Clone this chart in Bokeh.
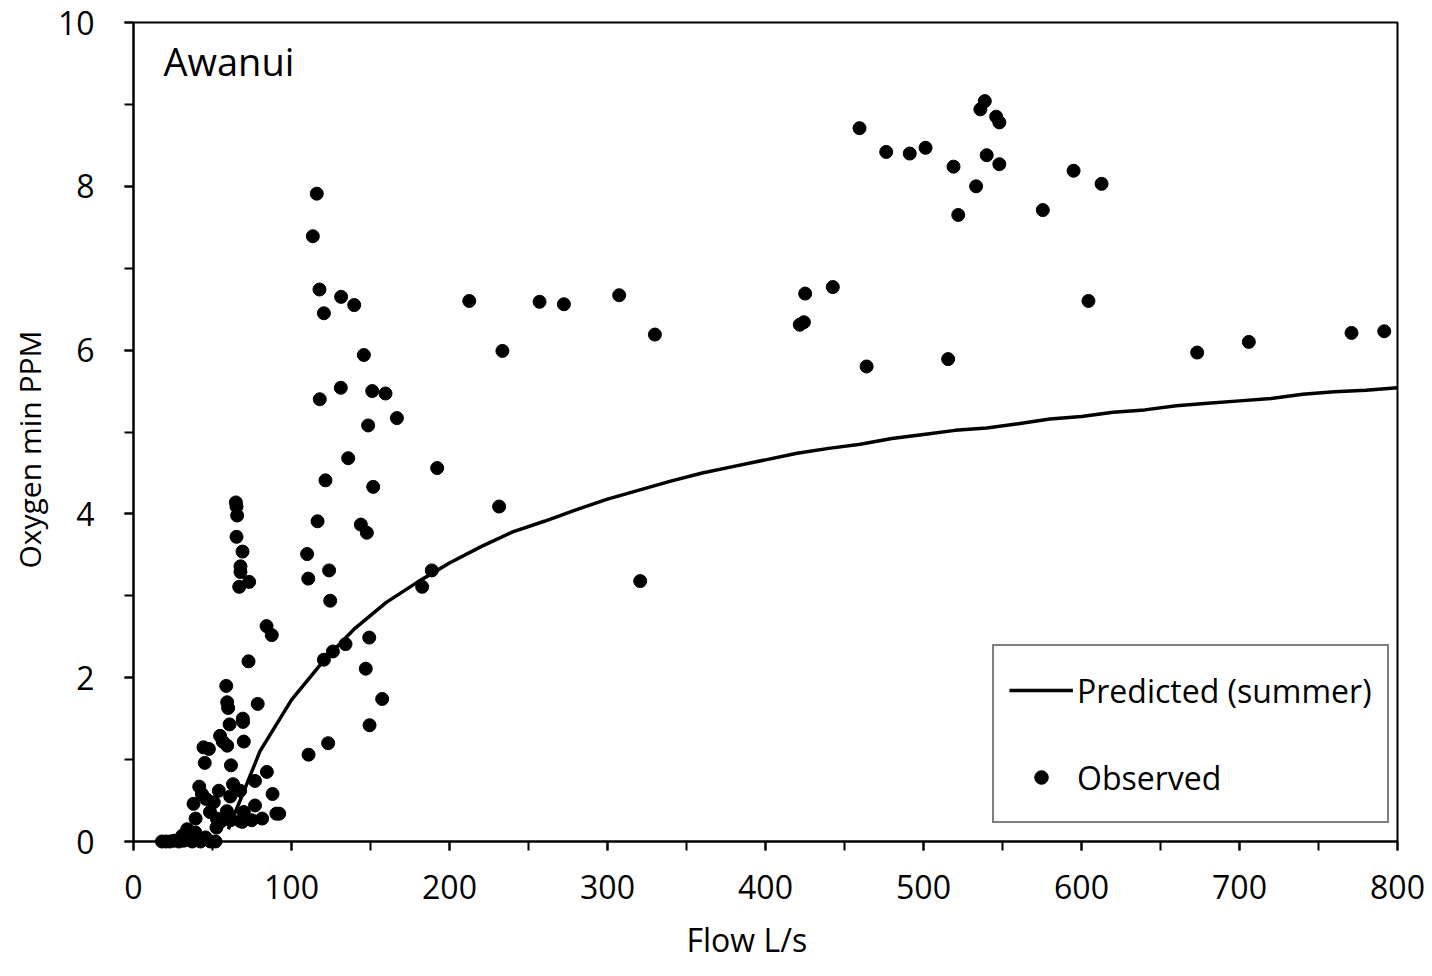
from bokeh.plotting import figure
from bokeh.models import Range1d, FixedTicker, Legend, LegendItem, Label, Title
from bokeh.embed import file_html
from bokeh.resources import INLINE

# ---- data ----
flow_obs = [
    459.5, 476.4, 491.3, 501.3, 519.0, 533.3, 538.8, 536.0, 546.0, 548.0, 540.0, 548.0,
    522.0, 575.5, 595.0, 612.7, 604.4, 515.6, 464.0, 673.2, 705.9, 770.9, 791.6,
    233.5, 257.0, 272.4, 307.4, 330.0, 231.4, 320.7, 425.1, 442.6, 421.7, 424.3,
    116.0, 113.5, 117.7, 131.4, 139.7, 120.5, 212.5, 145.8, 131.2, 151.1, 159.5, 117.9,
    166.7, 148.5, 135.9, 192.2, 121.5, 151.7, 116.5, 143.9, 147.7, 109.9, 123.8, 110.6,
    188.8, 182.7, 124.5, 149.2, 134.2, 126.2, 120.5, 147.0, 157.4, 149.4, 123.2, 110.8,
    64.8, 65.2, 65.6, 65.2, 69.0, 67.7, 67.7, 73.2, 66.9, 84.2, 87.5, 72.8,
    58.7, 59.3, 59.9, 78.6, 60.8, 69.2, 69.3, 54.8, 56.5, 59.3, 44.3, 47.7, 69.8,
    45.1, 61.7, 84.4, 76.9, 88.0, 63.0, 67.5, 41.6, 54.0, 43.3, 45.9, 38.0, 50.8,
    61.2, 48.4, 76.9, 92.2, 90.4, 39.3, 59.1, 52.7, 69.8, 81.4, 74.8, 67.5, 61.4,
    52.5, 55.0, 68.8,
    18.0, 20.5, 23.0, 25.5, 28.7, 30.8, 31.8, 34.0, 36.0, 37.2, 39.2, 40.3, 42.4,
    44.0, 45.6, 48.7, 51.9, 36.5, 33.0,
]
oxy_obs = [
    8.71, 8.42, 8.40, 8.47, 8.24, 8.00, 9.04, 8.94, 8.85, 8.78, 8.38, 8.27,
    7.65, 7.71, 8.19, 8.03, 6.60, 5.89, 5.80, 5.97, 6.10, 6.21, 6.23,
    5.99, 6.59, 6.56, 6.67, 6.19, 4.09, 3.18, 6.69, 6.77, 6.31, 6.34,
    7.91, 7.39, 6.74, 6.65, 6.55, 6.45, 6.60, 5.94, 5.54, 5.50, 5.47, 5.40,
    5.17, 5.08, 4.68, 4.56, 4.41, 4.33, 3.91, 3.87, 3.77, 3.51, 3.31, 3.21,
    3.31, 3.11, 2.94, 2.49, 2.41, 2.32, 2.22, 2.11, 1.74, 1.42, 1.20, 1.06,
    4.14, 4.09, 3.98, 3.72, 3.54, 3.36, 3.29, 3.17, 3.11, 2.63, 2.52, 2.20,
    1.90, 1.70, 1.63, 1.68, 1.43, 1.50, 1.46, 1.29, 1.22, 1.17, 1.15, 1.13, 1.22,
    0.96, 0.93, 0.85, 0.74, 0.58, 0.70, 0.62, 0.67, 0.62, 0.58, 0.52, 0.46, 0.48,
    0.55, 0.36, 0.44, 0.34, 0.34, 0.28, 0.37, 0.28, 0.36, 0.28, 0.26, 0.25, 0.26,
    0.17, 0.24, 0.24,
    0.00, 0.00, 0.00, 0.01, 0.00, 0.07, 0.01, 0.15, 0.05, 0.00, 0.11, 0.05, 0.00,
    0.03, 0.05, 0.00, 0.00, 0.03, 0.02,
]

flow_pred = [60, 70, 80, 100, 120, 140, 160, 180, 200, 220, 240, 260, 280, 300, 320,
             340, 360, 380, 400, 420, 440, 460, 480, 500, 520, 540, 560, 580, 600,
             620, 640, 660, 680, 700, 720, 740, 760, 780, 800]
oxy_pred = [0.15, 0.62, 1.10, 1.73, 2.20, 2.60, 2.92, 3.17, 3.40, 3.60, 3.78, 3.91,
            4.05, 4.18, 4.29, 4.40, 4.50, 4.58, 4.66, 4.74, 4.80, 4.85, 4.92, 4.97,
            5.02, 5.05, 5.10, 5.16, 5.19, 5.24, 5.27, 5.32, 5.35, 5.38, 5.41, 5.46,
            5.49, 5.51, 5.54]

x_major = [0, 100, 200, 300, 400, 500, 600, 700, 800]
x_minor = [0, 50, 100, 150, 200, 250, 300, 350, 400, 450, 500, 550, 600, 650, 700, 750, 800]
y_major = [0, 2, 4, 6, 8, 10]
y_minor = [0, 1, 2, 3, 4, 5, 6, 7, 8, 9, 10]

x_title = "Flow L/s"
y_title = "Oxygen min PPM"
panel_title = "Awanui"
series_names = ["Predicted (summer)", "Observed"]

FONT = "Open Sans"

p = figure(width=1432, height=976, output_backend="svg", toolbar_location=None,
           x_range=Range1d(0, 800), y_range=Range1d(0, 10),
           min_border_left=133, min_border_right=35, min_border_top=22,
           min_border_bottom=135)
p.xgrid.visible = False
p.ygrid.visible = False
p.outline_line_color = "black"
p.outline_line_width = 2
p.outline_line_alpha = 1
p.background_fill_color = "white"
p.border_fill_color = "white"

p.xaxis.ticker = FixedTicker(ticks=x_major, minor_ticks=x_minor)
p.yaxis.ticker = FixedTicker(ticks=y_major, minor_ticks=y_minor)
for ax in (p.xaxis[0], p.yaxis[0]):
    ax.axis_line_color = "black"
    ax.axis_line_width = 2
    ax.major_tick_line_color = "black"
    ax.major_tick_line_width = 2
    ax.minor_tick_line_color = "black"
    ax.minor_tick_line_width = 2
    ax.major_tick_in = 0
    ax.major_tick_out = 9
    ax.minor_tick_in = 0
    ax.minor_tick_out = 9
    ax.major_label_text_font = FONT
    ax.major_label_text_font_size = "32px"
    ax.major_label_text_color = "black"
p.xaxis.major_label_standoff = 24
p.yaxis.major_label_standoff = 30

line_r = p.line(flow_pred, oxy_pred, line_color="black", line_width=3.5, level="overlay")
pts_r = p.scatter(flow_obs, oxy_obs, marker="circle", size=13, fill_color="black",
                  line_color="black", level="overlay")

# panel title inside the plot area
p.add_layout(Label(x=30, y=781, x_units="screen", y_units="screen", text=panel_title,
                   text_font=FONT, text_font_size="38px", text_color="black",
                   text_baseline="alphabetic"))

# axis titles as side titles (so they can be offset along the axis)
p.add_layout(Title(text=x_title, align="left", offset=553, standoff=28,
                   text_font=FONT, text_font_size="32px", text_font_style="normal",
                   text_color="black"), "below")
p.add_layout(Title(text=y_title, align="left", offset=273, standoff=10,
                   text_font=FONT, text_font_size="30px", text_font_style="normal",
                   text_color="black"), "left")

legend = Legend(items=[LegendItem(label=series_names[0], renderers=[line_r]),
                       LegendItem(label=series_names[1], renderers=[pts_r])],
                location=(859, 18), orientation="vertical",
                glyph_width=64, glyph_height=34, label_height=58,
                label_standoff=4, padding=15, spacing=29, margin=0,
                label_text_font=FONT, label_text_font_size="32px",
                label_text_color="black",
                border_line_color="black", border_line_width=2,
                background_fill_color="white", background_fill_alpha=1)
p.add_layout(legend)

open("out.html", "w").write(file_html(p, INLINE))
